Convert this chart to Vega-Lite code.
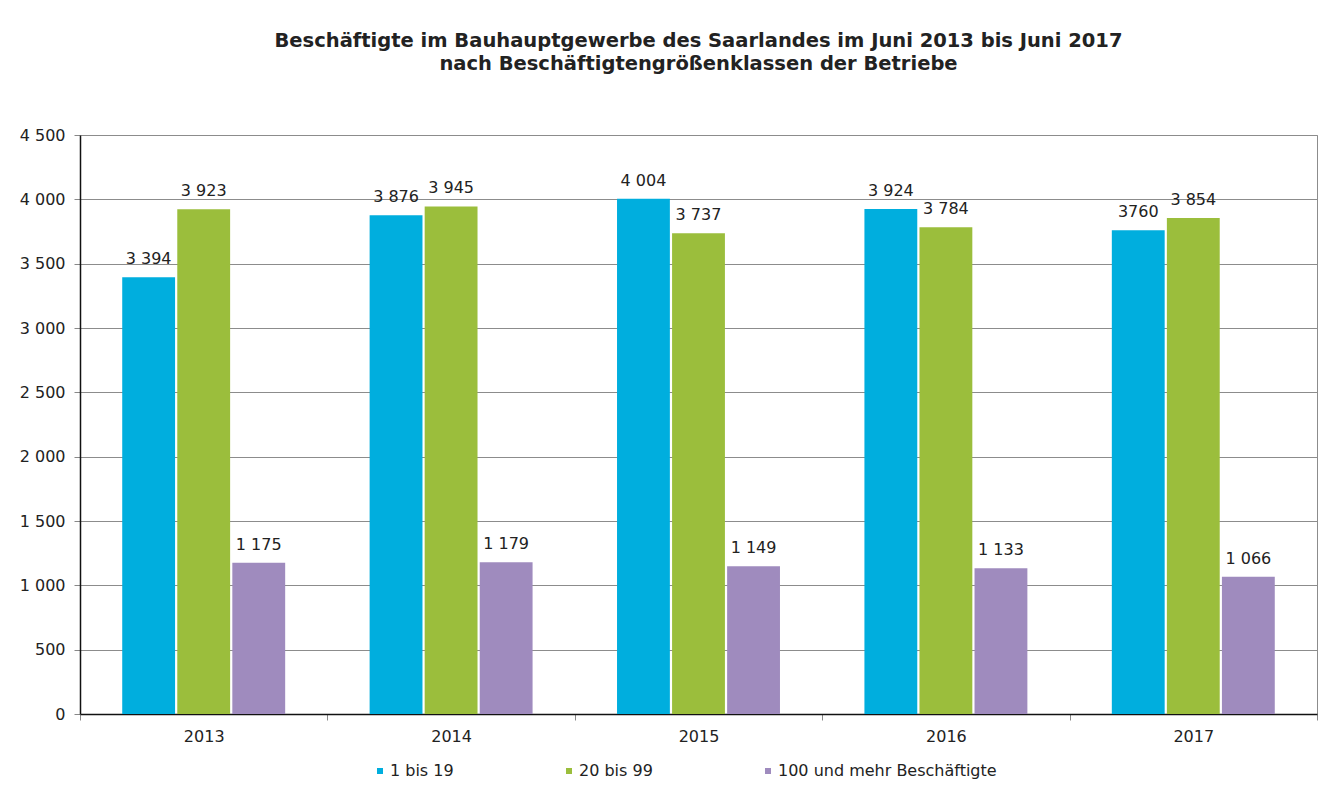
{
  "$schema": "https://vega.github.io/schema/vega-lite/v6.json",
  "width": 1237,
  "height": 579,
  "autosize": {"type": "none"},
  "padding": {"left": 80, "top": 135, "right": 22, "bottom": 86},
  "background": "white",
  "title": {
    "text": ["Beschäftigte im Bauhauptgewerbe des Saarlandes im Juni 2013 bis Juni 2017", "nach Beschäftigtengrößenklassen der Betriebe"],
    "font": "DejaVu Sans",
    "fontSize": 19.5,
    "fontWeight": "bold",
    "color": "#222222",
    "lineHeight": 23,
    "anchor": "middle",
    "offset": 53
  },
  "data": {
    "values": [
      {"year": "2013", "group": "1 bis 19", "value": 3394, "label": "3 394"},
      {"year": "2013", "group": "20 bis 99", "value": 3923, "label": "3 923"},
      {"year": "2013", "group": "100 und mehr Beschäftigte", "value": 1175, "label": "1 175"},
      {"year": "2014", "group": "1 bis 19", "value": 3876, "label": "3 876"},
      {"year": "2014", "group": "20 bis 99", "value": 3945, "label": "3 945"},
      {"year": "2014", "group": "100 und mehr Beschäftigte", "value": 1179, "label": "1 179"},
      {"year": "2015", "group": "1 bis 19", "value": 4004, "label": "4 004"},
      {"year": "2015", "group": "20 bis 99", "value": 3737, "label": "3 737"},
      {"year": "2015", "group": "100 und mehr Beschäftigte", "value": 1149, "label": "1 149"},
      {"year": "2016", "group": "1 bis 19", "value": 3924, "label": "3 924"},
      {"year": "2016", "group": "20 bis 99", "value": 3784, "label": "3 784"},
      {"year": "2016", "group": "100 und mehr Beschäftigte", "value": 1133, "label": "1 133"},
      {"year": "2017", "group": "1 bis 19", "value": 3760, "label": "3760"},
      {"year": "2017", "group": "20 bis 99", "value": 3854, "label": "3 854"},
      {"year": "2017", "group": "100 und mehr Beschäftigte", "value": 1066, "label": "1 066"}
    ]
  },
  "encoding": {
    "x": {
      "field": "year",
      "type": "nominal",
      "scale": {"paddingInner": 0, "paddingOuter": 0},
      "axis": {
        "title": null,
        "labelAngle": 0,
        "labelFont": "DejaVu Sans",
        "labelFontSize": 16,
        "labelColor": "#222222",
        "labelPadding": 8,
        "tickBand": "extent",
        "tickSize": 6,
        "tickColor": "#888888",
        "domainColor": "#111111",
        "domainWidth": 1.5,
        "grid": false
      }
    },
    "xOffset": {
      "field": "group",
      "type": "nominal",
      "scale": {"domain": ["1 bis 19", "20 bis 99", "100 und mehr Beschäftigte"], "paddingInner": 0.04, "paddingOuter": 0.767}
    },
    "y": {
      "field": "value",
      "type": "quantitative",
      "scale": {"domain": [0, 4500], "nice": false},
      "axis": {
        "title": null,
        "values": [0, 500, 1000, 1500, 2000, 2500, 3000, 3500, 4000, 4500],
        "labelExpr": "replace(format(datum.value, ','), ',', ' ')",
        "labelFont": "DejaVu Sans",
        "labelFontSize": 16,
        "labelColor": "#222222",
        "labelPadding": 9,
        "tickSize": 6,
        "tickColor": "#888888",
        "domainColor": "#111111",
        "domainWidth": 1.5,
        "grid": true,
        "gridColor": "#8c8c8c",
        "gridWidth": 1
      }
    }
  },
  "layer": [
    {
      "mark": {"type": "bar", "stroke": "white", "strokeWidth": 0},
      "encoding": {
        "color": {
          "field": "group",
          "type": "nominal",
          "scale": {
            "domain": ["1 bis 19", "20 bis 99", "100 und mehr Beschäftigte"],
            "range": ["#00AEDE", "#9BBE3C", "#9F8BBE"]
          },
          "legend": {
            "title": null,
            "orient": "none",
            "direction": "horizontal",
            "columns": 3,
            "columnPadding": 107,
            "legendX": 292,
            "legendY": 628,
            "padding": 0,
            "symbolType": "square",
            "symbolSize": 36,
            "symbolStrokeWidth": 0,
            "labelFont": "DejaVu Sans",
            "labelFontSize": 16,
            "labelColor": "#222222",
            "labelOffset": 2,
            "labelLimit": 400
          }
        }
      }
    },
    {
      "mark": {"type": "text", "dy": -18, "baseline": "middle", "font": "DejaVu Sans", "fontSize": 16, "color": "#222222"},
      "encoding": {
        "text": {"field": "label"}
      }
    }
  ],
  "config": {
    "view": {"stroke": "#8c8c8c", "strokeWidth": 1}
  }
}
